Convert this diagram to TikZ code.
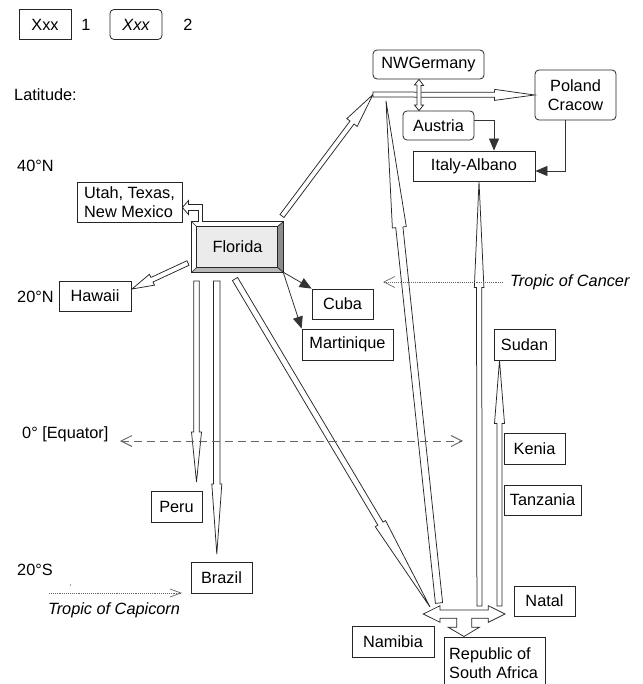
\documentclass[tikz,border=0pt]{standalone}
\usepackage{fontspec}
\setmainfont{Liberation Sans}
\usetikzlibrary{calc,arrows.meta}
\tikzset{
  txt/.style={font=\fontsize{16.3}{19}\selectfont},
  box/.style={txt, draw=black!85, line width=0.8pt, inner sep=0pt, align=center},
  rbox/.style={box, rounded corners=4pt},
  lbl/.style={txt, inner sep=0pt},
  harr/.style={draw=black!85, fill=white, line width=0.75pt, line join=miter},
  conn/.style={draw=black!80, line width=0.8pt, -{Triangle[length=12pt,width=10pt]}},
  latline/.style={draw=black!60, line width=0.9pt},
}
\newcommand\harrow[5]{%
  \coordinate (hb) at ($(#2)!#5!(#1)$);
  \draw[harr] ($(#1)!#3!90:(#2)$) -- ($(hb)!#3!90:(#2)$) -- ($(hb)!#4!90:(#2)$) -- (#2)
    -- ($(hb)!#4!-90:(#2)$) -- ($(hb)!#3!-90:(#2)$) -- ($(#1)!#3!-90:(#2)$) -- cycle;}
\begin{document}
\begin{tikzpicture}[x=1pt,y=-1pt]
\useasboundingbox (0,0) rectangle (642,684);
\clip (0,0) rectangle (642,684);
% legend
\node[box, minimum width=52pt, minimum height=30pt] (leg1) at (45,24.5) {Xxx};
\node[lbl] (leg1n) at (86,25) {1};
\node[rbox, minimum width=52pt, minimum height=30pt] (leg2) at (136,24.5) {\itshape Xxx};
\node[lbl] (leg2n) at (188,25) {2};
% latitude labels
\node[lbl, anchor=west] (lat) at (14,95) {Latitude:};
\node[lbl, anchor=west] (n40) at (17,166) {40°N};
\node[lbl, anchor=west] (n20) at (17,297) {20°N};
\node[lbl, anchor=west] (eq) at (22,434) {0° [Equator]};
\node[lbl, anchor=west] (s20) at (17,570) {20°S};
\node[lbl, anchor=west] (tcan) at (510,282) {\itshape Tropic of Cancer};
\node[lbl] (tcap) at (114,610) {\itshape Tropic of Capicorn};
% nodes
\node[rbox, minimum width=111pt, minimum height=29pt] (NW) at (428.5,64.5) {NWGermany};
\node[rbox, minimum width=81pt, minimum height=50pt] (Poland) at (575.5,95) {Poland\\Cracow};
\node[rbox, minimum width=71pt, minimum height=29pt] (Austria) at (438.5,125.5) {Austria};
\node[box, minimum width=122pt, minimum height=30pt] (Italy) at (474,166) {Italy-Albano};
\node[box, minimum width=105pt, minimum height=40pt, align=left] (Utah) at (129.5,202) {Utah, Texas,\\New Mexico};
\node[box, minimum width=72pt, minimum height=30pt] (Hawaii) at (95,296) {Hawaii};
\node[box, minimum width=61pt, minimum height=30pt] (Cuba) at (342.5,304) {Cuba};
\node[box, minimum width=91pt, minimum height=31pt] (Martinique) at (347.5,344.5) {Martinique};
\node[box, minimum width=61pt, minimum height=31pt] (Sudan) at (524.5,344.5) {Sudan};
\node[box, minimum width=61pt, minimum height=31pt] (Kenia) at (534.5,448.5) {Kenia};
\node[box, minimum width=77pt, minimum height=30pt] (Tanzania) at (542.5,500) {Tanzania};
\node[box, minimum width=51pt, minimum height=31pt] (Peru) at (176.5,506.5) {Peru};
\node[box, minimum width=61pt, minimum height=31pt] (Brazil) at (221.5,577.5) {Brazil};
\node[box, minimum width=61pt, minimum height=30pt] (Natal) at (544.5,601) {Natal};
\node[box, minimum width=82pt, minimum height=31pt] (Namibia) at (393,641.5) {Namibia};
\node[box, minimum width=101pt, minimum height=63pt, anchor=north west] (RSAbox) at (444,637) {};
\node[lbl, align=left, anchor=west] (RSA) at (449,663) {Republic of\\South Africa};
% Florida bevelled box
\node[txt, minimum width=91pt, minimum height=50pt, inner sep=0pt] (Florida) at (237.5,247) {};
\fill[black!8] ($(Florida.north west)+(5,5)$) rectangle ($(Florida.south east)+(-6,-5)$);
\fill[white] (Florida.north west) -- (Florida.north east) -- ($(Florida.north east)+(-6,5)$) -- ($(Florida.north west)+(5,5)$) -- cycle;
\fill[white] (Florida.north west) -- (Florida.south west) -- ($(Florida.south west)+(5,-5)$) -- ($(Florida.north west)+(5,5)$) -- cycle;
\fill[black!45] (Florida.north east) -- (Florida.south east) -- ($(Florida.south east)+(-6,-5)$) -- ($(Florida.north east)+(-6,5)$) -- cycle;
\fill[black!28] (Florida.south west) -- (Florida.south east) -- ($(Florida.south east)+(-6,-5)$) -- ($(Florida.south west)+(5,-5)$) -- cycle;
\draw[black!85, line width=0.8pt] (Florida.north west) rectangle (Florida.south east);
\draw[black!85, line width=0.7pt] ($(Florida.north west)+(5,5)$) rectangle ($(Florida.south east)+(-6,-5)$);
\draw[black!85, line width=0.7pt] (Florida.north west) -- ++(5,5) (Florida.north east) -- ++(-6,5)
  (Florida.south east) -- ++(-6,-5) (Florida.south west) -- ++(5,-5);
\node[txt] at (Florida.center) {Florida};
% coordinates for block arrows
\coordinate (jn) at (373,94.5);
\coordinate (ftail1) at (282,216);
\coordinate (poltip) at (Poland.west);
\coordinate (ftailH) at (188,263);
\coordinate (hawtip) at (132,289);
\coordinate (ftailP) at (196.5,281);
\coordinate (perutip) at (196.5,482);
\coordinate (ftailB) at (216.8,281);
\coordinate (braztip) at (216.8,554);
\coordinate (ftailN) at (235,279);
\coordinate (juncL) at (430,607);
\coordinate (namtail) at (439,603);
\coordinate (nwtip) at (386,101);
\coordinate (rsatail) at (479.5,606);
\coordinate (itatip) at ([xshift=5pt]Italy.south);
\coordinate (natail) at (499.5,606);
\coordinate (sudtip) at ([xshift=-25pt]Sudan.south);
% block arrows
\harrow{ftailN}{juncL}{3pt}{6pt}{97pt}
\harrow{namtail}{nwtip}{3.6pt}{7pt}{127pt}
\harrow{rsatail}{itatip}{2.6pt}{4.8pt}{106pt}
\harrow{natail}{sudtip}{2.6pt}{5pt}{63pt}
\harrow{ftail1}{jn}{2.5pt}{6.5pt}{35pt}
\harrow{jn}{poltip}{2.5pt}{5.5pt}{40pt}
\harrow{ftailH}{hawtip}{2.5pt}{6pt}{22pt}
\harrow{ftailP}{perutip}{2.8pt}{5pt}{50pt}
\harrow{ftailB}{braztip}{3.2pt}{5pt}{70pt}
% NWGermany <-> Austria
\draw[harr] (NW.south -| 419,0) -- ++(4.5,6) -- ++(-2.5,0) -- (421,105) -- (423.5,105) -- (Austria.north -| 419,0)
  -- (414.5,105) -- (417,105) -- (417,85) -- (414.5,85) -- cycle;
% Florida -> Utah elbow arrow
\draw[harr] (198.5,222) -- (198.5,210.5) -- (188.5,210.5) -- (188.5,214.5) -- (Utah.east |- 0,207.5)
  -- (188.5,200.5) -- (188.5,204.5) -- (202.5,204.5) -- (202.5,222);
% bottom junction (left-right-down arrow)
\draw[harr] (423.3,614) -- (440,605.7) -- (440,610) -- (488.3,610) -- (488.3,605.7) -- (505,614)
  -- (488.3,622.3) -- (488.3,618.3) -- (471.7,618.3) -- (471.7,627.3) -- (479.3,627.3) -- (464,636.5)
  -- (448.3,627.3) -- (456.7,627.3) -- (456.7,618.3) -- (440,618.3) -- (440,622.3) -- cycle;
% filled-arrow connectors
\draw[conn] ([yshift=5.5pt]Austria.east) -| ([xshift=20pt]Italy.north);
\draw[conn] ([xshift=-10.5pt]Poland.south) |- ([yshift=-5pt]Italy.east);
\draw[conn] (Florida.south east) -- (Cuba.north west);
\draw[conn] (Florida.south east) -- (Martinique.north west);
% latitude lines
\coordinate (cantip) at (383,282);
\draw[latline, densely dotted, line width=0.7pt, -{Straight Barb[length=11pt,width=11pt]}] ([xshift=-7pt]tcan.west) -- (cantip);
\coordinate (eqL) at (120,441);
\coordinate (eqR) at (463,441);
\draw[latline, dash pattern=on 8pt off 5pt, {Straight Barb[length=11pt,width=11pt]}-{Straight Barb[length=11pt,width=11pt]}] (eqL) -- (eqR);
\coordinate (capL) at (49,593);
\coordinate (capR) at (182,593);
\draw[latline, densely dotted, line width=0.7pt, -{Straight Barb[length=11pt,width=8pt]}] (capL) -- (capR);
\fill[black!70] (70.5,585) circle (0.7);
\end{tikzpicture}
\end{document}
